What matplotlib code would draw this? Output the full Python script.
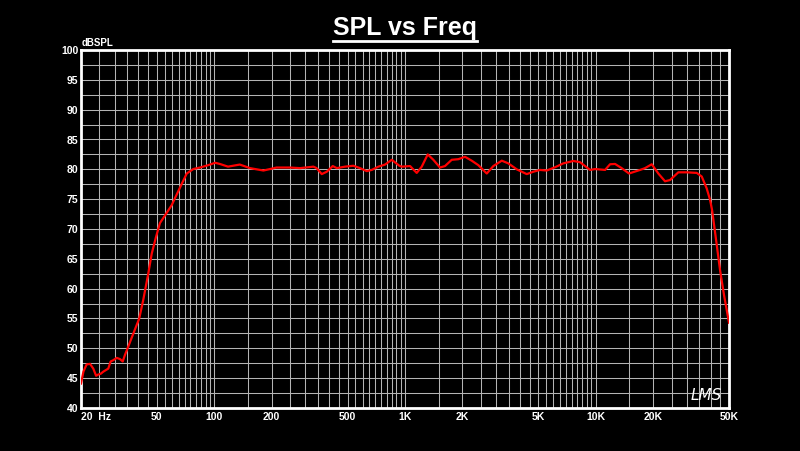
import numpy as np
import matplotlib
matplotlib.use("Agg")
import matplotlib.pyplot as plt
from matplotlib.lines import Line2D

# SPL response (Hz, dB SPL)
freq_hz = [20, 20.6, 21.4, 22.3, 23.2, 24.0, 24.6, 25.4, 26.2, 27.8, 28.6, 29.5,
           30.8, 32.0, 33.1, 34.0, 35.4, 36.9, 38.4, 40.4, 42.4, 45.1, 47.0, 49.5,
           51.9, 55.2, 59.8, 65.3, 71.7, 77.6, 84.1, 93, 101, 107, 118, 136, 154,
           181, 196, 212, 249, 282, 331, 344, 366, 389, 418, 439, 485, 536, 581,
           630, 669, 725, 786, 852, 934, 961, 1063, 1152, 1224, 1316, 1408, 1526,
           1621, 1758, 1904, 2064, 2238, 2424, 2684, 2906, 3217, 3482, 3854, 4350,
           4710, 5105, 5535, 6120, 6765, 7630, 8275, 9340, 9920, 11200, 11890,
           12630, 13690, 14950, 17080, 18140, 19670, 21300, 23090, 24530, 27120,
           30020, 33860, 35970, 38200, 39770, 40750, 42770, 44880, 47100, 50000]
spl_db = [44.1, 46.1, 47.3, 47.4, 46.6, 45.4, 45.6, 45.75, 46.1, 46.6, 47.8, 48.0,
          48.4, 48.2, 47.8, 48.9, 50.3, 51.8, 53.2, 55.0, 58.1, 62.6, 65.9, 68.7,
          71.0, 72.3, 74.0, 76.6, 79.3, 80.05, 80.3, 80.7, 81.1, 80.9, 80.45, 80.8,
          80.2, 79.8, 80.05, 80.3, 80.3, 80.2, 80.45, 80.2, 79.2, 79.6, 80.55,
          80.2, 80.45, 80.6, 80.2, 79.7, 79.9, 80.45, 80.8, 81.6, 80.6, 80.45,
          80.55, 79.4, 80.45, 82.5, 81.6, 80.3, 80.55, 81.6, 81.7, 82.1, 81.45,
          80.7, 79.3, 80.55, 81.45, 81.0, 80.0, 79.2, 79.6, 79.9, 79.8, 80.35,
          81.0, 81.4, 81.2, 79.9, 80.05, 79.9, 80.85, 80.9, 80.2, 79.3, 79.9,
          80.2, 80.85, 79.3, 78.0, 78.2, 79.5, 79.5, 79.4, 78.8, 76.8, 74.9, 73.2,
          68.2, 63.1, 58.9, 54.3]

x_ticks = [20, 50, 100, 200, 500, 1000, 2000, 5000, 10000, 20000, 50000]
x_labels = ["20  Hz", "50", "100", "200", "500", "1K", "2K", "5K", "10K", "20K", "50K"]
y_ticks = list(range(40, 101, 5))

fig = plt.figure(figsize=(8, 4.51), dpi=100, facecolor="black")
ax = fig.add_axes([81 / 800, 1 - 408 / 451, 648 / 800, 358 / 451], facecolor="black")

# grid: every half-step of each decade, every 2.5 dB
gx = np.concatenate([np.arange(20, 100, 5), np.arange(100, 1000, 50),
                     np.arange(1000, 10000, 500), np.arange(10000, 50001, 5000)])
for g in gx:
    ax.axvline(g, color="#b4b4b4", lw=0.75, zorder=1)
for g in np.arange(40, 100.1, 2.5):
    ax.axhline(g, color="#b4b4b4", lw=0.75, zorder=1)

ax.plot(freq_hz, spl_db, color="#ff0000", lw=1.6, zorder=3)

ax.set_xscale("log")
ax.set_xlim(20, 50000); ax.set_ylim(40, 100)
ax.set_xticks(x_ticks)
ax.set_xticklabels(x_labels)
ax.xaxis.set_minor_locator(matplotlib.ticker.NullLocator())
ax.set_yticks(y_ticks)
ax.tick_params(length=0, colors="white", labelsize=7.5, pad=3)
ax.tick_params(axis="y", pad=2)
for lab in ax.get_xticklabels() + ax.get_yticklabels():
    lab.set_fontweight("bold"); lab.set_family("Liberation Sans")
ax.get_xticklabels()[0].set_ha("left")
for sp in ax.spines.values():
    sp.set_color("white"); sp.set_linewidth(2)

fig.text(82 / 800, 1 - 43 / 451, "dBSPL", color="white", fontsize=7,
         fontweight="bold", family="Liberation Sans", va="center", ha="left")

title = fig.text(405 / 800, 1 - 28 / 451, "SPL vs Freq", color="white", fontsize=18,
                 fontweight="bold", family="Liberation Sans", ha="center", va="center")
fig.canvas.draw()
bb = title.get_window_extent().transformed(fig.transFigure.inverted())
fig.add_artist(Line2D([bb.x0, bb.x1], [1 - 41 / 451] * 2, color="white", lw=2,
                      transform=fig.transFigure))

fig.text(706 / 800, 1 - 396 / 451, "LMS", color="white", fontsize=11, style="italic",
         family="DejaVu Sans", fontweight="light", ha="center", va="center")

fig.savefig("out.png", dpi=100, facecolor="black")
